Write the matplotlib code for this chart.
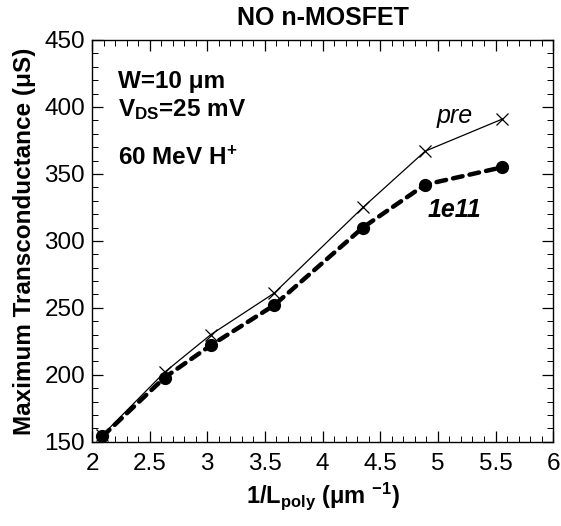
import matplotlib
matplotlib.use("Agg")
import matplotlib.pyplot as plt
from matplotlib.ticker import MultipleLocator

plt.rcParams['font.family'] = ['Liberation Sans', 'DejaVu Sans']
plt.rcParams['mathtext.fontset'] = 'custom'
plt.rcParams['mathtext.rm'] = 'Liberation Sans'
plt.rcParams['mathtext.bf'] = 'Liberation Sans:bold'
plt.rcParams['mathtext.it'] = 'Liberation Sans:italic'

# data
inv_lpoly = [2.09, 2.63, 3.03, 3.58, 4.35, 4.89, 5.56]
gm_pre = [155, 202, 230, 261, 325, 367, 391]
gm_1e11 = [154, 198, 222, 252, 310, 342, 355]

fig = plt.figure(figsize=(5.61, 5.26), dpi=100)
ax = fig.add_axes([0.164, 0.160, 0.822, 0.764])

ax.plot(inv_lpoly, gm_pre, color='black', lw=0.9, marker='x', ms=9, mew=0.9)
ax.plot(inv_lpoly, gm_1e11, color='black', lw=3.2, ls=(0, (2.2, 1.6)),
        marker='o', ms=8.5, dash_capstyle='round')

ax.set_xlim(2, 6)
ax.set_ylim(150, 450)
ax.xaxis.set_minor_locator(MultipleLocator(0.1))
ax.yaxis.set_major_locator(MultipleLocator(50))
ax.yaxis.set_minor_locator(MultipleLocator(10))
ax.set_xticks([2, 2.5, 3, 3.5, 4, 4.5, 5, 5.5, 6])
ax.set_xticklabels(['2', '2.5', '3', '3.5', '4', '4.5', '5', '5.5', '6'])
ax.tick_params(which='both', direction='in', top=True, right=True, labelsize=17.5)
ax.tick_params(which='major', length=8, width=0.9, pad=5)
ax.tick_params(axis='x', which='major', pad=8)
ax.tick_params(which='minor', length=4, width=0.7)
for s in ax.spines.values():
    s.set_linewidth(1.0)

ax.set_title('NO n-MOSFET', fontsize=18, fontweight='bold', pad=11)
ax.set_xlabel(r'1/L$_{\mathbf{poly}}$ (μm $^{\mathbf{-1}}$)', fontsize=17,
              fontweight='bold', labelpad=4)
ax.set_ylabel('Maximum Transconductance (μS)', fontsize=17.5, fontweight='bold',
              labelpad=6)

ax.text(0.056, 0.896, 'W=10 μm', transform=ax.transAxes, fontsize=17.5,
        fontweight='bold', va='center')
ax.text(0.056, 0.828, r'V$_{\mathbf{DS}}$=25 mV', transform=ax.transAxes,
        fontsize=17.5, fontweight='bold', va='center')
ax.text(0.056, 0.706, r'60 MeV H$^{\mathbf{+}}$', transform=ax.transAxes,
        fontsize=17.5, fontweight='bold', va='center')
ax.text(4.99, 393, 'pre', fontsize=18, fontstyle='italic', va='center')
ax.text(4.91, 323, '1e11', fontsize=18, fontstyle='italic',
        fontweight='bold', va='center')

fig.savefig('out.png', dpi=100)
